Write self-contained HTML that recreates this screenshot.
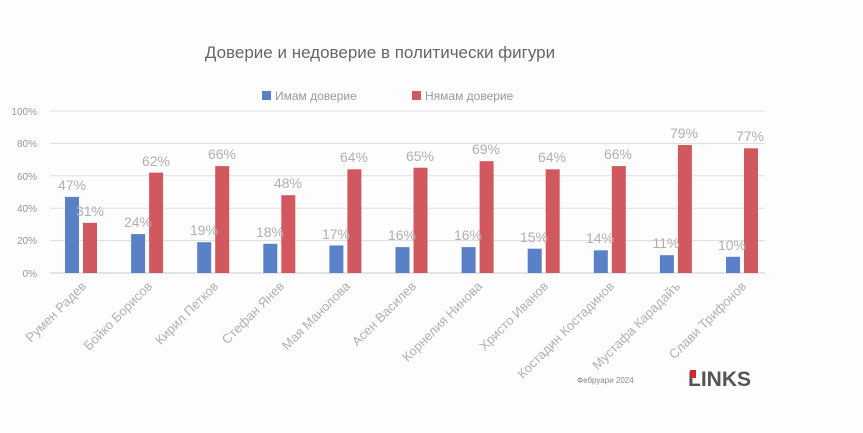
<!DOCTYPE html>
<html><head><meta charset="utf-8"><style>body{margin:0;background:#fff}svg{display:block}</style></head><body>
<svg width="863" height="433" xmlns="http://www.w3.org/2000/svg" font-family="Liberation Sans, DejaVu Sans, sans-serif">
<rect width="863" height="433" fill="#fdfdfd"/>
<text x="380" y="58" text-anchor="middle" font-size="17" fill="#666">Доверие и недоверие в политически фигури</text>
<rect x="262" y="91" width="9" height="9" fill="#5a80c8"/><text x="275" y="100" font-size="12" fill="#999">Имам доверие</text>
<rect x="412" y="91" width="9" height="9" fill="#d2585f"/><text x="425" y="100" font-size="12" fill="#999">Нямам доверие</text>
<g stroke="#ddd" stroke-width="1">
<line x1="50" x2="765" y1="111" y2="111"/><line x1="50" x2="765" y1="143.4" y2="143.4"/><line x1="50" x2="765" y1="175.8" y2="175.8"/><line x1="50" x2="765" y1="208.2" y2="208.2"/><line x1="50" x2="765" y1="240.6" y2="240.6"/><line x1="50" x2="765" y1="273" y2="273" stroke="#ccc"/>
</g>
<g font-size="10" fill="#999" text-anchor="end">
<text x="37" y="115">100%</text><text x="37" y="147">80%</text><text x="37" y="180">60%</text><text x="37" y="212">40%</text><text x="37" y="244">20%</text><text x="37" y="277">0%</text>
</g>
<g fill="#5a80c8">
<rect x="65" y="196.9" width="14" height="76.1"/>
<rect x="131.1" y="234.1" width="14" height="38.9"/>
<rect x="197.2" y="242.2" width="14" height="30.8"/>
<rect x="263.3" y="243.8" width="14" height="29.2"/>
<rect x="329.4" y="245.5" width="14" height="27.5"/>
<rect x="395.5" y="247.1" width="14" height="25.9"/>
<rect x="461.6" y="247.1" width="14" height="25.9"/>
<rect x="527.7" y="248.7" width="14" height="24.3"/>
<rect x="593.8" y="250.3" width="14" height="22.7"/>
<rect x="659.9" y="255.2" width="14" height="17.8"/>
<rect x="726" y="256.8" width="14" height="16.2"/>
</g>
<g fill="#d2585f">
<rect x="83" y="222.8" width="14" height="50.2"/>
<rect x="149.1" y="172.6" width="14" height="100.4"/>
<rect x="215.2" y="166.1" width="14" height="106.9"/>
<rect x="281.3" y="195.2" width="14" height="77.8"/>
<rect x="347.4" y="169.3" width="14" height="103.7"/>
<rect x="413.5" y="167.7" width="14" height="105.3"/>
<rect x="479.6" y="161.2" width="14" height="111.8"/>
<rect x="545.7" y="169.3" width="14" height="103.7"/>
<rect x="611.8" y="166.1" width="14" height="106.9"/>
<rect x="677.9" y="145" width="14" height="128"/>
<rect x="744" y="148.3" width="14" height="124.7"/>
</g>
<g font-size="14" fill="#b0b0b0" text-anchor="middle">
<text x="72" y="190">47%</text><text x="90" y="216">31%</text>
<text x="138" y="227">24%</text><text x="156" y="166">62%</text>
<text x="204" y="235">19%</text><text x="222" y="159">66%</text>
<text x="270" y="237">18%</text><text x="288" y="188">48%</text>
<text x="336" y="239">17%</text><text x="354" y="162">64%</text>
<text x="402" y="240">16%</text><text x="420" y="161">65%</text>
<text x="468" y="240">16%</text><text x="486" y="154">69%</text>
<text x="534" y="242">15%</text><text x="552" y="162">64%</text>
<text x="600" y="243">14%</text><text x="618" y="159">66%</text>
<text x="666" y="248">11%</text><text x="684" y="138">79%</text>
<text x="732" y="250">10%</text><text x="750" y="141">77%</text>
</g>
<g font-size="13" fill="#b0b0b0" text-anchor="end">
<text transform="translate(87,287) rotate(-45)">Румен Радев</text>
<text transform="translate(153,287) rotate(-45)">Бойко Борисов</text>
<text transform="translate(219,287) rotate(-45)">Кирил Петков</text>
<text transform="translate(285,287) rotate(-45)">Стефан Янев</text>
<text transform="translate(351,287) rotate(-45)">Мая Манолова</text>
<text transform="translate(417,287) rotate(-45)">Асен Василев</text>
<text transform="translate(483,287) rotate(-45)">Корнелия Нинова</text>
<text transform="translate(549,287) rotate(-45)">Христо Иванов</text>
<text transform="translate(615,287) rotate(-45)">Костадин Костадинов</text>
<text transform="translate(681,287) rotate(-45)">Мустафа Карадайъ</text>
<text transform="translate(747,287) rotate(-45)">Слави Трифонов</text>
</g>
<text x="577" y="383" font-size="8" fill="#888">Фебруари 2024</text>
<text x="688" y="386" font-size="21" font-weight="bold" fill="#555">LINKS</text>
<rect x="690" y="370" width="6" height="8" fill="#cc2a30"/>
</svg>
</body></html>
